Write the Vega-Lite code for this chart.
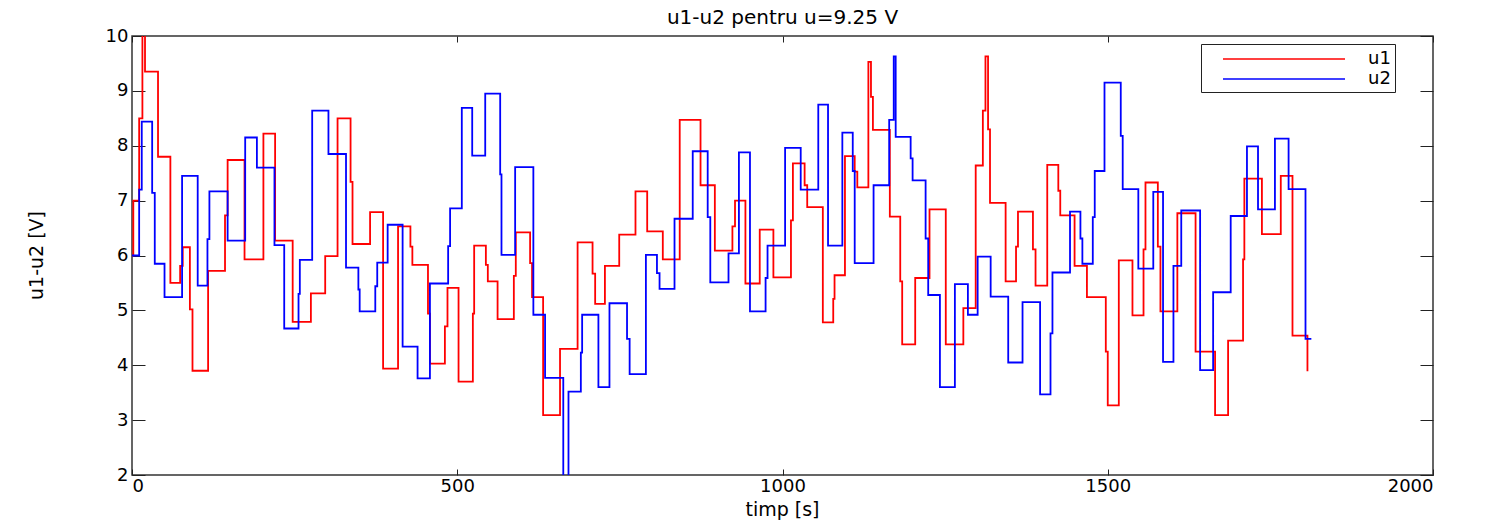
{
  "$schema": "https://vega.github.io/schema/vega-lite/v6.json",
  "width": 1301,
  "height": 439,
  "autosize": {"type": "none"},
  "padding": {"left": 132, "top": 36, "right": 53, "bottom": 50},
  "background": "white",
  "title": {"text": "u1-u2 pentru u=9.25 V", "font": "DejaVu Sans", "fontSize": 20, "fontWeight": "normal", "color": "black", "anchor": "middle", "offset": -14},
  "config": {
    "view": {"stroke": "#333", "strokeWidth": 1.5},
    "axis": {"labelFont": "DejaVu Sans", "titleFont": "DejaVu Sans", "labelFontSize": 18, "titleFontSize": 19, "titleFontWeight": "normal", "labelColor": "black", "titleColor": "black", "domainColor": "#222", "tickColor": "#222", "grid": false}
  },
  "data": {"values": [
    {"t":0,"v":6.0,"s":"u1"},{"t":2,"v":7.0,"s":"u1"},{"t":11,"v":8.5,"s":"u1"},{"t":16,"v":10.4,"s":"u1"},{"t":20,"v":9.35,"s":"u1"},{"t":40,"v":7.8,"s":"u1"},{"t":59,"v":5.5,"s":"u1"},{"t":74,"v":5.81,"s":"u1"},{"t":78,"v":6.15,"s":"u1"},{"t":89,"v":5.02,"s":"u1"},{"t":93,"v":3.9,"s":"u1"},{"t":117,"v":5.72,"s":"u1"},{"t":143,"v":6.73,"s":"u1"},{"t":147,"v":7.74,"s":"u1"},{"t":173,"v":5.93,"s":"u1"},{"t":202,"v":8.22,"s":"u1"},{"t":220,"v":6.27,"s":"u1"},{"t":247,"v":4.79,"s":"u1"},{"t":275,"v":5.31,"s":"u1"},{"t":297,"v":5.99,"s":"u1"},{"t":316,"v":8.5,"s":"u1"},{"t":336,"v":7.34,"s":"u1"},{"t":339,"v":6.21,"s":"u1"},{"t":366,"v":6.79,"s":"u1"},{"t":386,"v":3.94,"s":"u1"},{"t":409,"v":6.53,"s":"u1"},{"t":428,"v":6.16,"s":"u1"},{"t":431,"v":5.83,"s":"u1"},{"t":455,"v":4.94,"s":"u1"},{"t":458,"v":4.03,"s":"u1"},{"t":481,"v":4.71,"s":"u1"},{"t":485,"v":5.41,"s":"u1"},{"t":502,"v":3.7,"s":"u1"},{"t":524,"v":4.94,"s":"u1"},{"t":526,"v":6.18,"s":"u1"},{"t":544,"v":5.83,"s":"u1"},{"t":547,"v":5.53,"s":"u1"},{"t":562,"v":4.84,"s":"u1"},{"t":587,"v":5.63,"s":"u1"},{"t":590,"v":6.42,"s":"u1"},{"t":612,"v":5.86,"s":"u1"},{"t":615,"v":5.24,"s":"u1"},{"t":632,"v":3.09,"s":"u1"},{"t":658,"v":4.3,"s":"u1"},{"t":685,"v":6.24,"s":"u1"},{"t":708,"v":5.67,"s":"u1"},{"t":712,"v":5.12,"s":"u1"},{"t":727,"v":5.81,"s":"u1"},{"t":749,"v":6.38,"s":"u1"},{"t":774,"v":7.17,"s":"u1"},{"t":792,"v":6.44,"s":"u1"},{"t":816,"v":5.93,"s":"u1"},{"t":842,"v":8.47,"s":"u1"},{"t":874,"v":7.28,"s":"u1"},{"t":896,"v":6.09,"s":"u1"},{"t":923,"v":6.53,"s":"u1"},{"t":927,"v":7.0,"s":"u1"},{"t":943,"v":5.49,"s":"u1"},{"t":965,"v":6.47,"s":"u1"},{"t":986,"v":5.6,"s":"u1"},{"t":1013,"v":6.64,"s":"u1"},{"t":1016,"v":7.68,"s":"u1"},{"t":1034,"v":7.28,"s":"u1"},{"t":1038,"v":6.88,"s":"u1"},{"t":1062,"v":4.78,"s":"u1"},{"t":1078,"v":5.21,"s":"u1"},{"t":1080,"v":5.64,"s":"u1"},{"t":1096,"v":7.81,"s":"u1"},{"t":1111,"v":7.53,"s":"u1"},{"t":1115,"v":7.24,"s":"u1"},{"t":1132,"v":9.53,"s":"u1"},{"t":1136,"v":8.89,"s":"u1"},{"t":1139,"v":8.29,"s":"u1"},{"t":1165,"v":6.71,"s":"u1"},{"t":1181,"v":5.53,"s":"u1"},{"t":1184,"v":4.38,"s":"u1"},{"t":1204,"v":5.59,"s":"u1"},{"t":1226,"v":6.84,"s":"u1"},{"t":1251,"v":4.38,"s":"u1"},{"t":1278,"v":5.04,"s":"u1"},{"t":1297,"v":7.64,"s":"u1"},{"t":1308,"v":8.64,"s":"u1"},{"t":1312,"v":9.63,"s":"u1"},{"t":1316,"v":8.3,"s":"u1"},{"t":1319,"v":6.96,"s":"u1"},{"t":1343,"v":5.53,"s":"u1"},{"t":1359,"v":6.16,"s":"u1"},{"t":1362,"v":6.8,"s":"u1"},{"t":1385,"v":6.11,"s":"u1"},{"t":1389,"v":5.45,"s":"u1"},{"t":1407,"v":7.65,"s":"u1"},{"t":1424,"v":7.18,"s":"u1"},{"t":1427,"v":6.73,"s":"u1"},{"t":1449,"v":5.81,"s":"u1"},{"t":1468,"v":5.24,"s":"u1"},{"t":1497,"v":4.25,"s":"u1"},{"t":1500,"v":3.27,"s":"u1"},{"t":1517,"v":5.91,"s":"u1"},{"t":1538,"v":4.91,"s":"u1"},{"t":1555,"v":6.11,"s":"u1"},{"t":1558,"v":7.33,"s":"u1"},{"t":1577,"v":6.16,"s":"u1"},{"t":1581,"v":4.98,"s":"u1"},{"t":1607,"v":6.77,"s":"u1"},{"t":1635,"v":4.25,"s":"u1"},{"t":1665,"v":3.09,"s":"u1"},{"t":1685,"v":4.45,"s":"u1"},{"t":1708,"v":5.93,"s":"u1"},{"t":1710,"v":7.4,"s":"u1"},{"t":1737,"v":6.39,"s":"u1"},{"t":1766,"v":7.45,"s":"u1"},{"t":1784,"v":4.54,"s":"u1"},{"t":1807,"v":3.89,"s":"u1"},
    {"t":0,"v":6.0,"s":"u2"},{"t":11,"v":7.2,"s":"u2"},{"t":15,"v":8.44,"s":"u2"},{"t":31,"v":7.14,"s":"u2"},{"t":35,"v":5.85,"s":"u2"},{"t":50,"v":5.24,"s":"u2"},{"t":77,"v":7.45,"s":"u2"},{"t":101,"v":5.45,"s":"u2"},{"t":116,"v":6.3,"s":"u2"},{"t":119,"v":7.17,"s":"u2"},{"t":147,"v":6.27,"s":"u2"},{"t":174,"v":8.15,"s":"u2"},{"t":192,"v":7.6,"s":"u2"},{"t":219,"v":6.19,"s":"u2"},{"t":234,"v":4.67,"s":"u2"},{"t":256,"v":5.3,"s":"u2"},{"t":258,"v":5.92,"s":"u2"},{"t":277,"v":8.64,"s":"u2"},{"t":302,"v":7.85,"s":"u2"},{"t":329,"v":5.78,"s":"u2"},{"t":348,"v":5.38,"s":"u2"},{"t":350,"v":4.98,"s":"u2"},{"t":374,"v":5.44,"s":"u2"},{"t":377,"v":5.87,"s":"u2"},{"t":393,"v":6.56,"s":"u2"},{"t":416,"v":4.34,"s":"u2"},{"t":439,"v":3.76,"s":"u2"},{"t":458,"v":5.49,"s":"u2"},{"t":486,"v":6.17,"s":"u2"},{"t":489,"v":6.86,"s":"u2"},{"t":507,"v":8.69,"s":"u2"},{"t":523,"v":7.82,"s":"u2"},{"t":543,"v":8.95,"s":"u2"},{"t":566,"v":7.48,"s":"u2"},{"t":568,"v":6.01,"s":"u2"},{"t":589,"v":7.61,"s":"u2"},{"t":617,"v":4.92,"s":"u2"},{"t":635,"v":3.77,"s":"u2"},{"t":663,"v":1.8,"s":"u2"},{"t":671,"v":3.52,"s":"u2"},{"t":690,"v":4.23,"s":"u2"},{"t":692,"v":4.92,"s":"u2"},{"t":717,"v":3.6,"s":"u2"},{"t":734,"v":5.13,"s":"u2"},{"t":761,"v":4.48,"s":"u2"},{"t":765,"v":3.84,"s":"u2"},{"t":790,"v":6.01,"s":"u2"},{"t":807,"v":5.68,"s":"u2"},{"t":811,"v":5.39,"s":"u2"},{"t":834,"v":6.67,"s":"u2"},{"t":862,"v":7.9,"s":"u2"},{"t":885,"v":6.7,"s":"u2"},{"t":889,"v":5.51,"s":"u2"},{"t":917,"v":6.04,"s":"u2"},{"t":933,"v":7.88,"s":"u2"},{"t":950,"v":4.98,"s":"u2"},{"t":974,"v":5.59,"s":"u2"},{"t":977,"v":6.18,"s":"u2"},{"t":1004,"v":7.96,"s":"u2"},{"t":1028,"v":7.2,"s":"u2"},{"t":1055,"v":8.75,"s":"u2"},{"t":1070,"v":6.18,"s":"u2"},{"t":1092,"v":8.24,"s":"u2"},{"t":1108,"v":7.54,"s":"u2"},{"t":1111,"v":5.86,"s":"u2"},{"t":1140,"v":7.28,"s":"u2"},{"t":1164,"v":8.47,"s":"u2"},{"t":1171,"v":9.63,"s":"u2"},{"t":1174,"v":8.16,"s":"u2"},{"t":1197,"v":7.77,"s":"u2"},{"t":1200,"v":7.37,"s":"u2"},{"t":1220,"v":6.31,"s":"u2"},{"t":1224,"v":5.28,"s":"u2"},{"t":1242,"v":3.6,"s":"u2"},{"t":1265,"v":5.48,"s":"u2"},{"t":1285,"v":4.92,"s":"u2"},{"t":1300,"v":5.98,"s":"u2"},{"t":1320,"v":5.25,"s":"u2"},{"t":1347,"v":4.05,"s":"u2"},{"t":1369,"v":5.15,"s":"u2"},{"t":1396,"v":3.47,"s":"u2"},{"t":1412,"v":4.58,"s":"u2"},{"t":1415,"v":5.69,"s":"u2"},{"t":1442,"v":6.8,"s":"u2"},{"t":1458,"v":6.31,"s":"u2"},{"t":1461,"v":5.85,"s":"u2"},{"t":1477,"v":6.7,"s":"u2"},{"t":1480,"v":7.54,"s":"u2"},{"t":1495,"v":9.15,"s":"u2"},{"t":1520,"v":8.18,"s":"u2"},{"t":1523,"v":7.21,"s":"u2"},{"t":1547,"v":5.76,"s":"u2"},{"t":1570,"v":7.16,"s":"u2"},{"t":1585,"v":4.06,"s":"u2"},{"t":1601,"v":5.81,"s":"u2"},{"t":1613,"v":6.82,"s":"u2"},{"t":1642,"v":3.91,"s":"u2"},{"t":1662,"v":5.33,"s":"u2"},{"t":1689,"v":6.72,"s":"u2"},{"t":1714,"v":7.99,"s":"u2"},{"t":1731,"v":6.84,"s":"u2"},{"t":1757,"v":8.13,"s":"u2"},{"t":1778,"v":7.21,"s":"u2"},{"t":1804,"v":4.48,"s":"u2"},{"t":1813,"v":4.48,"s":"u2"}
  ]},
  "layer": [
    {
      "mark": {"type": "line", "interpolate": "step-after", "strokeWidth": 1.8, "clip": true},
      "encoding": {
        "x": {"field": "t", "type": "quantitative", "scale": {"domain": [0, 2000], "nice": false},
              "axis": {"orient": "bottom", "values": [0, 500, 1000, 1500, 2000], "format": "d", "title": "timp [s]", "tickSize": -6, "labelPadding": 8, "domain": false, "titleX": 650, "titleY": 34, "titleBaseline": "middle", "titleAnchor": "middle", "titleAlign": "center"}},
        "y": {"field": "v", "type": "quantitative", "scale": {"domain": [2, 10], "nice": false, "zero": false},
              "axis": {"orient": "left", "values": [2, 3, 4, 5, 6, 7, 8, 9, 10], "format": "d", "title": "u1-u2 [V]", "tickSize": -13, "labelPadding": 17, "domain": false, "titleX": -96, "titleY": 219, "titleAngle": -90, "titleBaseline": "middle", "titleAlign": "center", "titleAnchor": "middle"}},
        "color": {"field": "s", "type": "nominal", "scale": {"domain": ["u1", "u2"], "range": ["#ff0000", "#0000ff"]},
                  "legend": {"title": null, "orient": "none", "legendX": 1069, "legendY": 8, "direction": "vertical",
                             "symbolType": "M-1,0H11.2", "symbolSize": 400, "symbolStrokeWidth": 1.6, "symbolOffset": 17, "labelOffset": 124,
                             "labelFont": "DejaVu Sans", "labelFontSize": 18, "labelColor": "black", "rowPadding": 0, "padding": 4,
                             "strokeColor": "#222", "fillColor": "white"}}
      }
    },
    {
      "mark": {"type": "line", "opacity": 0},
      "encoding": {
        "x": {"field": "t", "type": "quantitative", "axis": {"orient": "top", "values": [0, 500, 1000, 1500, 2000], "labels": false, "title": null, "tickSize": -6, "domain": false}},
        "y": {"field": "v", "type": "quantitative", "axis": {"orient": "right", "values": [2, 3, 4, 5, 6, 7, 8, 9, 10], "labels": false, "title": null, "tickSize": -13, "domain": false}},
        "detail": {"field": "s", "type": "nominal"}
      }
    }
  ],
  "resolve": {"axis": {"x": "independent", "y": "independent"}}
}
